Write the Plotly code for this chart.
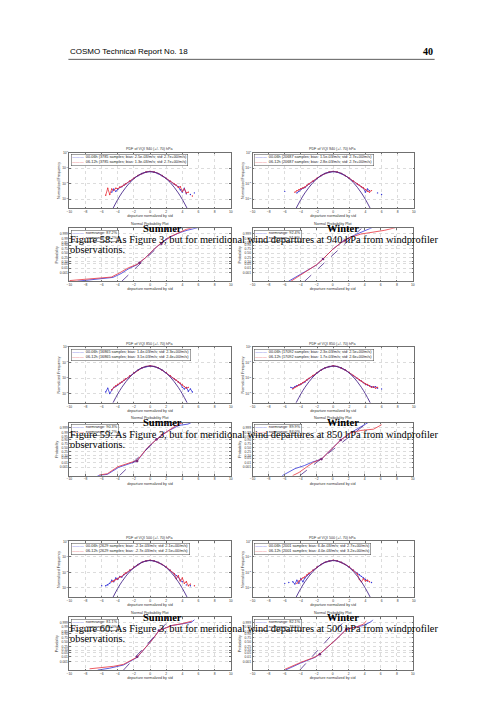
import plotly.graph_objects as go

# page is 504x712; the browser body adds an 8px margin, so the figure is drawn
# 8px in from the top-left corner and page pixels are shifted by OFF
PAGE_W, PAGE_H = 504, 712
OFF = 8
W, H = 488, 696

# ---------------- data ----------------
FIG_NUMS = ['58', '59', '60']
LEVELS = ['940', '850', '500']
SEASONS = ['Summer', 'Winter']

# PDF panels: x grid of the empirical curves, values are log10(normalized frequency)
PDF_X = [-6.0, -5.75, -5.5, -5.25, -5.0, -4.75, -4.5, -4.25, -4.0, -3.75, -3.5, -3.25,
         -3.0, -2.5, -2.0, -1.5, -1.0, -0.5, 0.0, 0.5, 1.0, 1.5, 2.0, 2.5, 3.0,
         3.25, 3.5, 3.75, 4.0, 4.25, 4.5, 4.75, 5.0, 5.25, 5.5, 5.75, 6.0]

F58S_BLUE = [None, None, None, None, None, -2.55, -2.35, -2.5, -2.38, -2.25, -2.2, -2.1,
             -2.02, -1.84, -1.66, -1.49, -1.35, -1.26, -1.22, -1.26, -1.36, -1.5, -1.67, -1.85, -2.05,
             -2.12, -2.2, -2.4, -2.55, -2.3, -2.65, None, -2.7, None, -2.6, None, None]
F58S_RED = [None, None, -2.75, -2.3, -2.7, -2.35, -2.45, -2.3, -2.32, -2.22, -2.18, -2.1,
            -2.0, -1.83, -1.65, -1.48, -1.34, -1.25, -1.21, -1.25, -1.34, -1.48, -1.66, -1.84, -2.02,
            -2.1, -2.25, -2.2, -2.5, -2.35, -2.6, -2.55, None, -2.8, None, None, None]
F58W_BLUE = [-2.5, None, None, None, None, None, -2.6, -2.5, -2.35, -2.3, -2.25, -2.12,
             -2.03, -1.85, -1.66, -1.49, -1.35, -1.26, -1.22, -1.26, -1.35, -1.49, -1.66, -1.85, -2.04,
             -2.12, -2.2, -2.3, -2.55, -2.35, -2.45, None, None, None, -2.6, None, -2.7]
F58W_RED = [None, None, None, None, None, -2.55, -2.45, -2.4, -2.33, -2.28, -2.22, -2.1,
            -2.02, -1.84, -1.65, -1.48, -1.34, -1.25, -1.21, -1.25, -1.34, -1.48, -1.65, -1.84, -2.02,
            -2.1, -2.2, -2.28, -2.4, -2.5, -2.55, -2.45, None, None, None, None, None]
F59S_BLUE = [None, None, -2.9, -2.65, -3.0, -2.75, -2.6, -2.55, -2.45, -2.35, -2.27, -2.15,
             -2.05, -1.86, -1.67, -1.49, -1.35, -1.26, -1.22, -1.26, -1.35, -1.5, -1.67, -1.86, -2.06,
             -2.15, -2.25, -2.35, -2.6, -2.7, -2.6, -2.85, -2.7, -2.9, None, None, None]
F59S_RED = [None, None, None, None, None, -2.75, -2.6, -2.5, -2.42, -2.33, -2.25, -2.14,
            -2.04, -1.85, -1.66, -1.49, -1.34, -1.25, -1.21, -1.25, -1.34, -1.49, -1.66, -1.85, -2.05,
            -2.14, -2.25, -2.33, -2.45, -2.55, -2.65, -2.6, None, None, None, None, None]
F59W_BLUE = [None, None, None, -2.6, -2.65, -2.55, -2.5, -2.45, -2.4, -2.3, -2.25, -2.13,
             -2.03, -1.85, -1.66, -1.49, -1.35, -1.26, -1.22, -1.26, -1.35, -1.49, -1.66, -1.85, -2.03,
             -2.12, -2.2, -2.3, -2.38, -2.45, -2.5, -2.55, -2.6, -2.55, -2.65, None, -2.7]
F59W_RED = [None, None, None, None, -2.7, -2.6, -2.55, -2.45, -2.38, -2.3, -2.23, -2.12,
            -2.02, -1.84, -1.65, -1.48, -1.34, -1.25, -1.21, -1.25, -1.34, -1.48, -1.65, -1.84, -2.02,
            -2.11, -2.2, -2.28, -2.38, -2.42, -2.5, -2.6, -2.55, -2.65, -2.6, None, None]
F60S_BLUE = [-2.85, None, -2.85, -2.8, -2.7, -2.5, -2.6, -2.35, -2.45, -2.25, -2.3, -2.15,
             -2.06, -1.85, -1.66, -1.49, -1.35, -1.26, -1.22, -1.26, -1.35, -1.49, -1.66, -1.86, -2.1,
             -2.2, -2.3, -2.5, -2.6, None, -2.8, None, -2.85, None, None, None, None]
F60S_RED = [None, None, None, None, None, -2.6, -2.55, -2.45, -2.4, -2.3, -2.25, -2.12,
            -2.03, -1.84, -1.65, -1.48, -1.34, -1.25, -1.21, -1.25, -1.34, -1.48, -1.65, -1.85, -2.08,
            -2.4, -2.2, -2.55, -2.35, -2.7, -2.6, -2.85, -2.75, None, -2.85, None, None]
F60W_BLUE = [-2.7, None, -2.65, None, -2.6, -2.75, -2.5, -2.7, -2.4, -2.6, -2.35, -2.2,
             -2.1, -1.86, -1.66, -1.49, -1.35, -1.26, -1.22, -1.26, -1.35, -1.49, -1.66, -1.85, -2.05,
             -2.15, -2.25, -2.35, -2.45, -2.55, None, -2.65, None, None, None, None, None]
F60W_RED = [None, None, None, None, None, None, -2.7, -2.55, -2.45, -2.35, -2.28, -2.15,
            -2.05, -1.85, -1.65, -1.48, -1.34, -1.25, -1.21, -1.25, -1.34, -1.48, -1.65, -1.85, -2.1,
            -2.45, -2.6, -2.4, -2.55, -2.5, -2.6, None, None, None, None, None, None]

# fitted gaussian (log10)
GAUSS_X = [-4.6, -4.0, -3.5, -3.0, -2.5, -2.0, -1.5, -1.0, -0.5, 0.0,
           0.5, 1.0, 1.5, 2.0, 2.5, 3.0, 3.5, 4.0, 4.6]
GAUSS_LOG = [-3.60, -3.02, -2.60, -2.24, -1.93, -1.68, -1.48, -1.34, -1.26, -1.23,
             -1.26, -1.34, -1.48, -1.68, -1.93, -2.24, -2.60, -3.02, -3.60]

# normal probability panels: departures (x) vs. normal quantile (z)
NP58S_BLUE_X = [-9.0, -4.6, -3.6, -2.6, -1.6, -0.6, 0.6, 1.6, 2.6, 3.6, 4.6, 5.9]
NP58S_BLUE_Z = [-4.4, -3.8, -3.2, -2.4, -1.8, -0.75, 0.75, 1.8, 2.6, 3.2, 3.6, 4.0]
NP58S_RED_X = [-10.0, -4.8, -3.8, -2.7, -1.6, -0.6, 0.6, 1.5, 2.5, 3.5, 4.5, 5.2]
NP58S_RED_Z = [-4.3, -3.75, -3.1, -2.3, -1.75, -0.75, 0.75, 1.75, 2.6, 3.2, 3.75, 4.0]
NP58W_BLUE_X = [-5.5, -4.2, -3.0, -2.0, -1.2, 0.0, 1.0, 2.0, 3.0, 4.0, 4.9]
NP58W_BLUE_Z = [-4.4, -3.5, -2.6, -1.85, -0.9, 0.6, 1.6, 2.4, 3.0, 3.5, 4.0]
NP58W_RED_X = [-5.2, -4.0, -3.0, -2.0, -1.2, 0.0, 1.0, 2.0, 3.5, 5.0, 6.5, 7.8]
NP58W_RED_Z = [-4.4, -3.4, -2.55, -1.8, -0.9, 0.6, 1.6, 2.4, 3.0, 3.3, 3.6, 4.0]
NP59S_BLUE_X = [-6.5, -5.3, -3.9, -2.8, -1.6, -0.3, 0.8, 2.2, 3.6, 4.7, 5.2]
NP59S_BLUE_Z = [-4.4, -4.2, -3.1, -2.6, -2.1, 0.0, 1.3, 2.6, 3.5, 3.7, 4.0]
NP59S_RED_X = [-6.3, -5.3, -4.0, -2.9, -1.6, -0.3, 0.8, 2.2, 3.4, 4.2]
NP59S_RED_Z = [-4.3, -4.1, -3.0, -2.5, -2.0, 0.0, 1.3, 2.6, 3.6, 4.0]
NP59W_BLUE_X = [-6.3, -4.7, -3.5, -2.6, -1.4, 0.0, 1.0, 2.2, 3.4, 4.5]
NP59W_BLUE_Z = [-4.4, -3.3, -2.8, -2.3, -1.8, 0.0, 1.2, 2.3, 3.2, 4.0]
NP59W_RED_X = [-5.0, -4.2, -3.2, -2.4, -1.4, 0.0, 1.0, 2.2, 3.5, 5.1, 6.1]
NP59W_RED_Z = [-4.4, -3.9, -3.0, -2.3, -1.8, 0.0, 1.2, 2.3, 2.7, 2.9, 3.6]
NP60S_BLUE_X = [-6.5, -5.0, -3.3, -1.6, 0.3, 1.1, 2.7, 4.0, 5.1, 5.5]
NP60S_BLUE_Z = [-4.4, -4.1, -3.6, -2.4, 0.4, 1.8, 2.6, 2.85, 3.1, 3.5]
NP60S_RED_X = [-7.5, -6.0, -4.5, -3.3, -1.6, 0.3, 1.1, 2.7, 4.0, 5.2]
NP60S_RED_Z = [-4.2, -4.0, -3.8, -3.5, -2.35, 0.4, 1.8, 2.6, 2.9, 3.3]
NP60W_BLUE_X = [-5.9, -4.0, -2.2, -1.6, 0.5, 1.7, 3.0, 3.8, 4.8, 5.0]
NP60W_BLUE_Z = [-4.4, -3.3, -2.4, -1.9, 0.5, 2.0, 2.4, 2.6, 3.2, 3.5]
NP60W_RED_X = [-6.0, -4.0, -2.2, -1.6, 0.5, 1.7, 3.0, 3.8, 4.2]
NP60W_RED_Z = [-4.3, -3.2, -2.35, -1.85, 0.5, 2.0, 2.4, 2.8, 3.3]

# dashed reference lines (x ends, z ends)
REF_X = [[-3.5, 3.4], [-3.5, 3.6], [-3.8, 3.0], [-4.1, 4.3], [-3.3, 2.7], [-4.1, 1.9]]
REF_Z = [-4.4, 3.9]

# quartile dots where the curves meet the reference line
MARK_X = [[-1.3, 1.4], [-1.2, 1.5], [-1.6, 0.8], [-1.4, 1.0], [-1.6, 1.1], [-1.6, 1.7]]
MARK_Z = [[-1.5, 1.5], [-0.9, 2.0], [-2.1, 1.3], [-1.8, 1.2], [-2.3, 1.8], [-1.9, 2.0]]

PROB_LABELS = ['0.001', '0.01', '0.05', '0.10', '0.25', '0.50', '0.75', '0.90', '0.95', '0.99', '0.999']
PROB_Z = [-3.09, -2.33, -1.64, -1.28, -0.67, 0.0, 0.67, 1.28, 1.64, 2.33, 3.09]

PDF_LEGENDS = [
    ('00-06h (3785 samples; bias: 2.5e-03/m/s; std: 2.7e+00/m/s)',
     '06-12h (3785 samples; bias: 1.3e-03/m/s; std: 2.7e+00/m/s)'),
    ('00-06h (20687 samples; bias: 1.5e-03/m/s; std: 2.7e+00/m/s)',
     '06-12h (20687 samples; bias: 2.8e-03/m/s; std: 2.7e+00/m/s)'),
    ('00-06h (16865 samples; bias: 1.4e-03/m/s; std: 2.3e+00/m/s)',
     '06-12h (16865 samples; bias: 3.1e-03/m/s; std: 2.4e+00/m/s)'),
    ('00-06h (17092 samples; bias: 2.3e-03/m/s; std: 2.5e+00/m/s)',
     '06-12h (17092 samples; bias: 1.7e-03/m/s; std: 2.6e+00/m/s)'),
    ('00-06h (2629 samples; bias: -2.1e-03/m/s; std: 2.1e+00/m/s)',
     '06-12h (2629 samples; bias: -2.7e-03/m/s; std: 2.5e+00/m/s)'),
    ('00-06h (2001 samples; bias: 6.4e-03/m/s; std: 2.7e+00/m/s)',
     '06-12h (2001 samples; bias: 4.0e-03/m/s; std: 3.2e+00/m/s)'),
]
NORMRANGE = [('87.2%', '86.2%'), ('92.4%', '91.9%'), ('90.3%', '91.2%'),
             ('89.9%', '84.0%'), ('81.1%', '84.0%'), ('82.1%', '76.5%')]

PDF_BLUE = [F58S_BLUE, F58W_BLUE, F59S_BLUE, F59W_BLUE, F60S_BLUE, F60W_BLUE]
PDF_RED = [F58S_RED, F58W_RED, F59S_RED, F59W_RED, F60S_RED, F60W_RED]
NP_BLUE = [(NP58S_BLUE_X, NP58S_BLUE_Z), (NP58W_BLUE_X, NP58W_BLUE_Z), (NP59S_BLUE_X, NP59S_BLUE_Z),
           (NP59W_BLUE_X, NP59W_BLUE_Z), (NP60S_BLUE_X, NP60S_BLUE_Z), (NP60W_BLUE_X, NP60W_BLUE_Z)]
NP_RED = [(NP58S_RED_X, NP58S_RED_Z), (NP58W_RED_X, NP58W_RED_Z), (NP59S_RED_X, NP59S_RED_Z),
          (NP59W_RED_X, NP59W_RED_Z), (NP60S_RED_X, NP60S_RED_Z), (NP60W_RED_X, NP60W_RED_Z)]

BLUE = '#3535d8'
RED = '#e8323c'
FIT = '#4b2a8c'
AX = '#707070'
SERIF = 'Liberation Serif'
SANS = 'Liberation Sans'


def px(x):
    return (x - OFF) / W


def py(y):
    return 1 - (y - OFF) / H


def dom(x0, x1, y0, y1):
    return [px(x0), px(x1)], [py(y1), py(y0)]


def axis_style(**kw):
    st = dict(showline=True, mirror='ticks', linecolor=AX, linewidth=0.6,
              ticks='inside', ticklen=1.5, tickcolor=AX, tickwidth=0.5,
              showgrid=True, gridcolor='#dcdcdc', griddash='dot', gridwidth=0.5,
              zeroline=False, tickfont=dict(size=3.3, color='#333', family=SANS),
              title_font=dict(size=3.7, color='#333', family=SANS), title_standoff=1)
    st.update(kw)
    return st


def note(text, x, y, size, family=SANS, color='#333', **kw):
    # explicit anchors: 'auto' would move texts by a third-of-the-page rule
    d = dict(text=text, x=px(x), y=py(y), xref='paper', yref='paper', showarrow=False,
             xanchor='center', yanchor='middle',
             font=dict(size=size, color=color, family=family))
    d.update(kw)
    return d


fig = go.Figure()
layout = {}
annotations = []
n = 0

for i, num in enumerate(FIG_NUMS):
    dy = 195 * i
    for j, season in enumerate(SEASONS):
        p = 2 * i + j
        xl = 67 if j == 0 else 252
        xr = 230 if j == 0 else 415

        # ---- PDF panel ----
        n += 1
        xd, yd = dom(xl, xr, 151 + dy, 207 + dy)
        xa = 'x' if n == 1 else f'x{n}'
        ya = 'y' if n == 1 else f'y{n}'
        layout['xaxis' if n == 1 else f'xaxis{n}'] = axis_style(
            domain=xd, anchor=ya, range=[-10, 10], dtick=2,
            title_text='departure normalized by std')
        layout['yaxis' if n == 1 else f'yaxis{n}'] = axis_style(
            domain=yd, anchor=xa, type='log', range=[-3.6, 0],
            tickvals=[1, 0.1, 0.01, 0.001],
            ticktext=['10<sup>0</sup>', '10<sup>-1</sup>', '10<sup>-2</sup>', '10<sup>-3</sup>'],
            title_text='Normalized Frequency')
        for vals, col in ((PDF_BLUE[p], BLUE), (PDF_RED[p], RED)):
            fig.add_trace(go.Scatter(
                x=PDF_X, y=[None if v is None else 10 ** v for v in vals],
                mode='lines+markers', line=dict(color=col, width=0.8),
                marker=dict(size=1.4, color=col), xaxis=xa, yaxis=ya, showlegend=False))
        fig.add_trace(go.Scatter(
            x=GAUSS_X, y=[10 ** v for v in GAUSS_LOG], mode='lines',
            line=dict(color=FIT, width=0.9, shape='spline'),
            xaxis=xa, yaxis=ya, showlegend=False))
        annotations.append(note(f'PDF of VQI {LEVELS[i]} (+/- 70) hPa', (xl + xr) / 2, 147.5 + dy, 3.7))
        b, r = PDF_LEGENDS[p]
        annotations.append(note(
            f'<span style="color:{BLUE}">———</span>  {b}<br><span style="color:{RED}">———</span>  {r}',
            xl + 1.5, 152.5 + dy, 3.8, color='#222',
            xanchor='left', yanchor='top', align='left',
            bgcolor='white', bordercolor='#444', borderwidth=0.5, borderpad=0.8))

        # ---- normal probability panel ----
        n += 1
        xr2 = 230 if j == 0 else 414
        xd, yd = dom(xl, xr2, 227 + dy, 280 + dy)
        xa = f'x{n}'
        ya = f'y{n}'
        layout[f'xaxis{n}'] = axis_style(
            domain=xd, anchor=ya, range=[-10, 10], dtick=2,
            title_text='departure normalized by std')
        layout[f'yaxis{n}'] = axis_style(
            domain=yd, anchor=xa, range=[-4.4, 3.9],
            tickvals=PROB_Z, ticktext=PROB_LABELS, title_text='Probability')
        for (vx, vz), col in ((NP_BLUE[p], BLUE), (NP_RED[p], RED)):
            fig.add_trace(go.Scatter(
                x=vx, y=vz, mode='lines', line=dict(color=col, width=0.8),
                xaxis=xa, yaxis=ya, showlegend=False))
        fig.add_trace(go.Scatter(
            x=REF_X[p], y=REF_Z, mode='lines', line=dict(color=FIT, width=0.8, dash='dash'),
            xaxis=xa, yaxis=ya, showlegend=False))
        fig.add_trace(go.Scatter(
            x=MARK_X[p], y=MARK_Z[p], mode='markers', marker=dict(size=2.6, color='#7a2a78'),
            xaxis=xa, yaxis=ya, showlegend=False))
        annotations.append(note('Normal Probability Plot', (xl + xr2) / 2, 222.5 + dy, 3.7))
        nb, nr = NORMRANGE[p]
        annotations.append(note(
            f'<span style="color:{BLUE}">———</span>  normrange: {nb}<br>'
            f'<span style="color:{RED}">———</span>  normrange: {nr}',
            xl + 1.5, 228.5 + dy, 3.8, color='#222',
            xanchor='left', yanchor='top', align='left',
            bgcolor='white', bordercolor='#444', borderwidth=0.5, borderpad=0.8))

        # season label
        annotations.append(note(f'<b>{season}</b>', 161 if j == 0 else 343, 227 + dy, 10.5,
                                family=SERIF, color='black'))

    # caption
    annotations.append(note(
        f'Figure {num}: As Figure 3, but for meridional wind departures at {LEVELS[i]} hPa from windprofiler',
        66, 238.5 + dy, 10.4, family=SERIF, color='black', xanchor='left'))
    annotations.append(note('observations.', 66, 248.5 + dy, 10.4, family=SERIF, color='black',
                            xanchor='left'))

# page header
annotations.append(note('COSMO Technical Report No. 18', 66, 50, 8.0, color='black', xanchor='left'))
annotations.append(note('<b>40</b>', 436, 50, 10, family=SERIF, color='black', xanchor='right'))

fig.update_layout(
    width=W, height=H,
    margin=dict(l=0, r=0, t=0, b=0),
    paper_bgcolor='white', plot_bgcolor='white',
    annotations=annotations,
    shapes=[dict(type='line', xref='paper', yref='paper', x0=px(66), x1=px(436),
                 y0=py(57.5), y1=py(57.5), line=dict(color='#333', width=0.8))],
    **layout,
)

fig.write_html('out.html')
